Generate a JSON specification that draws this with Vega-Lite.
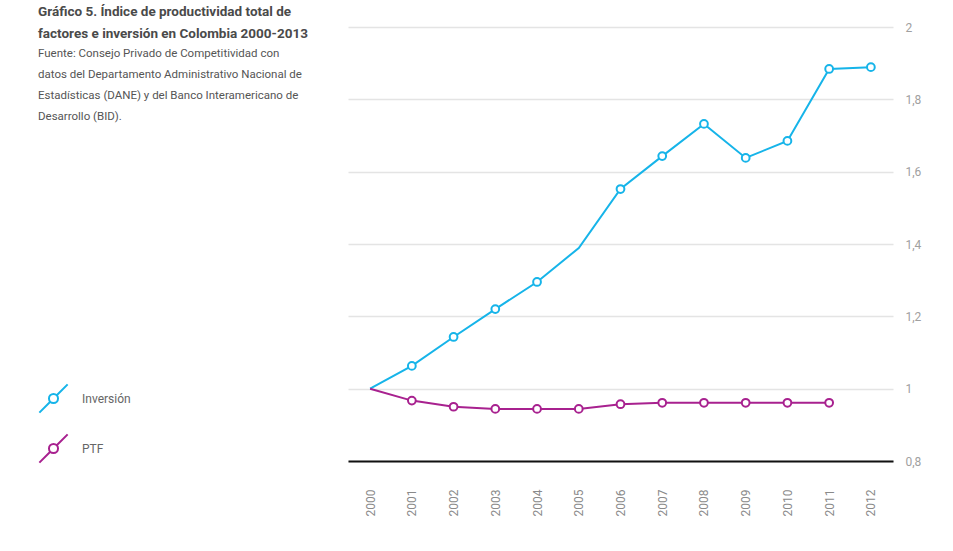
{
  "$schema": "https://vega.github.io/schema/vega-lite/v6.json",
  "autosize": "none",
  "width": 545,
  "height": 434,
  "padding": {"left": 348, "top": 27, "right": 60, "bottom": 90},
  "background": "white",
  "config": {"view": {"stroke": null}},
  "title": {
    "text": ["Gráfico 5. Índice de productividad total de", "factores e inversión en Colombia 2000-2013"],
    "subtitle": ["Fuente: Consejo Privado de Competitividad con", "datos del Departamento Administrativo Nacional de", "Estadísticas (DANE) y del Banco Interamericano de", "Desarrollo (BID)."],
    "anchor": "start",
    "frame": "group",
    "dx": -310,
    "dy": 106,
    "font": "Roboto",
    "fontSize": 13.5,
    "fontWeight": "bold",
    "color": "#4a4a4a",
    "lineHeight": 22,
    "subtitleFont": "Roboto",
    "subtitleFontSize": 11.5,
    "subtitleLineHeight": 21.3,
    "subtitleColor": "#555555",
    "subtitlePadding": 7
  },
  "data": {
    "values": [
      {"year": "2000", "serie": "Inversión", "valor": 1.0},
      {"year": "2001", "serie": "Inversión", "valor": 1.063},
      {"year": "2002", "serie": "Inversión", "valor": 1.143},
      {"year": "2003", "serie": "Inversión", "valor": 1.220},
      {"year": "2004", "serie": "Inversión", "valor": 1.295},
      {"year": "2005", "serie": "Inversión", "valor": 1.389},
      {"year": "2006", "serie": "Inversión", "valor": 1.552},
      {"year": "2007", "serie": "Inversión", "valor": 1.643},
      {"year": "2008", "serie": "Inversión", "valor": 1.732},
      {"year": "2009", "serie": "Inversión", "valor": 1.638},
      {"year": "2010", "serie": "Inversión", "valor": 1.685},
      {"year": "2011", "serie": "Inversión", "valor": 1.884},
      {"year": "2012", "serie": "Inversión", "valor": 1.889},
      {"year": "2000", "serie": "PTF", "valor": 1.0},
      {"year": "2001", "serie": "PTF", "valor": 0.967},
      {"year": "2002", "serie": "PTF", "valor": 0.950},
      {"year": "2003", "serie": "PTF", "valor": 0.944},
      {"year": "2004", "serie": "PTF", "valor": 0.944},
      {"year": "2005", "serie": "PTF", "valor": 0.944},
      {"year": "2006", "serie": "PTF", "valor": 0.957},
      {"year": "2007", "serie": "PTF", "valor": 0.961},
      {"year": "2008", "serie": "PTF", "valor": 0.961},
      {"year": "2009", "serie": "PTF", "valor": 0.961},
      {"year": "2010", "serie": "PTF", "valor": 0.961},
      {"year": "2011", "serie": "PTF", "valor": 0.961}
    ]
  },
  "encoding": {
    "x": {
      "field": "year",
      "type": "ordinal",
      "scale": {"type": "point", "padding": 0.53},
      "axis": {
        "title": null,
        "labelAngle": -90,
        "labelPadding": 28,
        "labelColor": "#8a8a8a",
        "labelFont": "Roboto",
        "labelFontSize": 12,
        "ticks": false,
        "domainColor": "#111111",
        "domainWidth": 2,
        "zindex": 1
      }
    },
    "y": {
      "field": "valor",
      "type": "quantitative",
      "scale": {"domain": [0.8, 2], "nice": false, "zero": false},
      "axis": {
        "title": null,
        "orient": "right",
        "values": [0.8, 1, 1.2, 1.4, 1.6, 1.8, 2],
        "labelExpr": "replace(format(datum.value, '~g'), '.', ',')",
        "labelPadding": 12,
        "labelColor": "#a0a0a0",
        "labelFont": "Roboto",
        "labelFontSize": 12,
        "ticks": false,
        "domain": false,
        "gridColor": "#e4e4e4",
        "gridWidth": 1.5
      }
    },
    "color": {
      "field": "serie",
      "type": "nominal",
      "scale": {"domain": ["Inversión", "PTF"], "range": ["#16b4e9", "#a8218f"]},
      "legend": {
        "orient": "none",
        "legendX": -310,
        "legendY": 356,
        "title": null,
        "symbolType": "M-1,1L-0.23,0.23M0.23,-0.23L1,-1M0.32,0A0.32,0.32 0 1 1 -0.32,0A0.32,0.32 0 1 1 0.32,0Z",
        "symbolSize": 800,
        "symbolStrokeWidth": 2,
        "symbolFillColor": "white",
        "labelFont": "Roboto",
        "labelFontSize": 12,
        "labelColor": "#666666",
        "labelOffset": 13,
        "rowPadding": 13
      }
    }
  },
  "layer": [
    {"mark": {"type": "line", "strokeWidth": 2}},
    {
      "transform": [{"filter": "datum.year != '2000' && !(datum.serie == 'Inversión' && datum.year == '2005')"}],
      "mark": {"type": "point", "filled": false, "fill": "white", "fillOpacity": 1, "opacity": 1, "size": 60, "strokeWidth": 2}
    }
  ]
}
